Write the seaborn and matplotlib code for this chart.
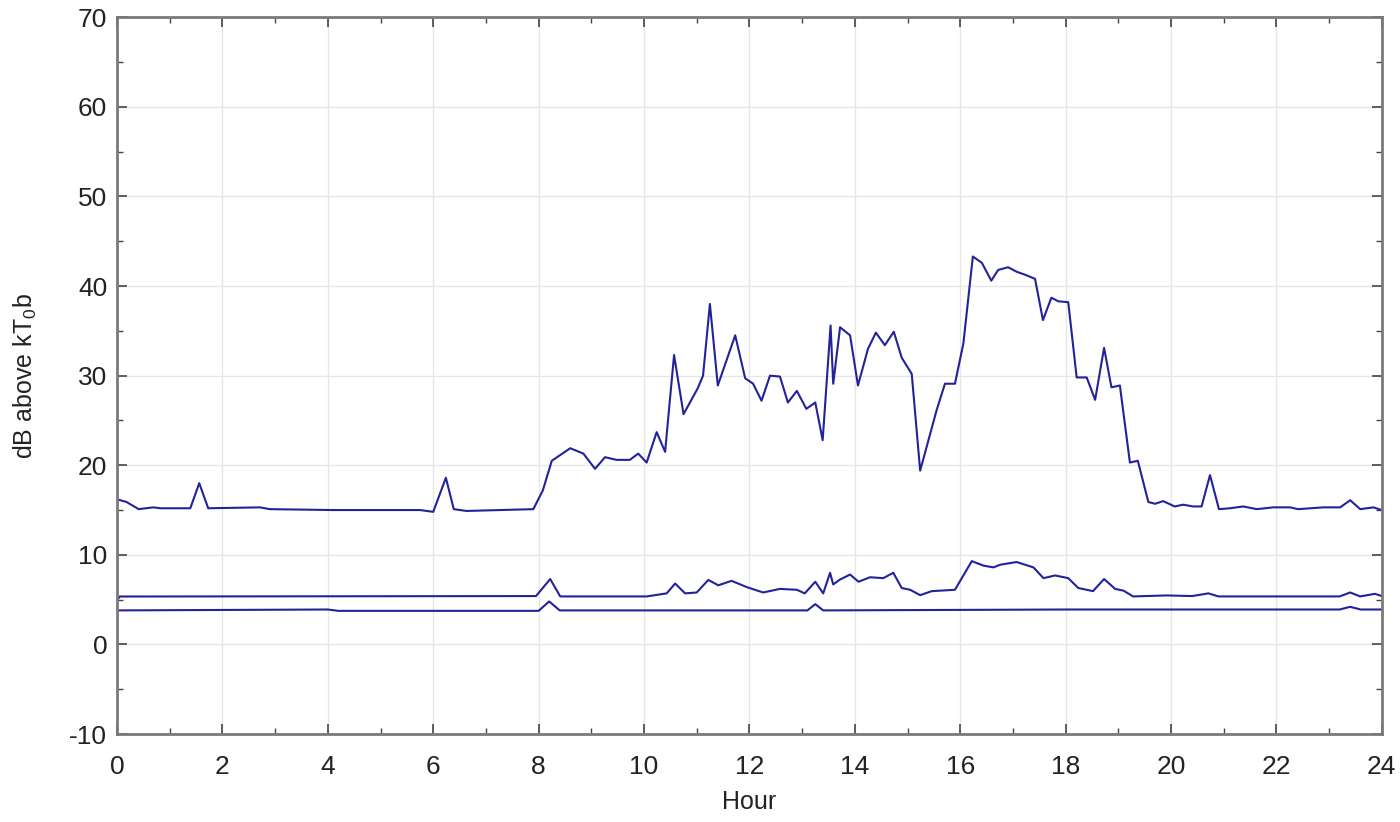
import numpy as np
import pandas as pd
import matplotlib
matplotlib.use('agg')
import matplotlib.pyplot as plt
import seaborn as sns
from matplotlib.ticker import MultipleLocator

sns.set_style('ticks')
plt.rcParams['font.family'] = ['Liberation Sans', 'DejaVu Sans']
plt.rcParams['mathtext.default'] = 'regular'
plt.rcParams['axes.unicode_minus'] = False

# upper curve (hour, dB)
upper_hour = [0.0, 0.18, 0.41, 0.69, 0.82, 1.39, 1.56, 1.73, 2.71, 2.9, 4.1, 5.75,
              6.0, 6.24, 6.39, 6.63, 7.9, 8.08, 8.25, 8.6, 8.85, 9.07, 9.26, 9.48,
              9.73, 9.89, 10.05, 10.24, 10.4, 10.57, 10.75, 11.02, 11.12, 11.25,
              11.4, 11.73, 11.92, 12.07, 12.23, 12.39, 12.58, 12.73, 12.9, 13.08,
              13.25, 13.39, 13.54, 13.59, 13.72, 13.91, 14.06, 14.25, 14.4, 14.57,
              14.74, 14.89, 15.08, 15.24, 15.55, 15.71, 15.9, 16.06, 16.24, 16.41,
              16.59, 16.72, 16.91, 17.07, 17.26, 17.42, 17.57, 17.73, 17.86, 18.05,
              18.21, 18.4, 18.56, 18.73, 18.87, 19.03, 19.22, 19.37, 19.57, 19.7,
              19.85, 20.07, 20.23, 20.42, 20.58, 20.74, 20.91, 21.12, 21.37, 21.63,
              21.94, 22.26, 22.41, 22.89, 23.21, 23.4, 23.59, 23.84, 24.0]
upper_db = [16.2, 15.9, 15.1, 15.3, 15.2, 15.2, 18.0, 15.2, 15.3, 15.1, 15.0, 15.0,
            14.8, 18.6, 15.1, 14.9, 15.1, 17.2, 20.5, 21.9, 21.3, 19.6, 20.9, 20.6,
            20.6, 21.3, 20.3, 23.7, 21.5, 32.3, 25.7, 28.6, 30.0, 38.0,
            28.9, 34.5, 29.7, 29.1, 27.2, 30.0, 29.9, 27.0, 28.3, 26.3,
            27.0, 22.8, 35.6, 29.1, 35.4, 34.5, 28.9, 33.0, 34.8, 33.4,
            34.9, 32.0, 30.2, 19.4, 26.1, 29.1, 29.1, 33.6, 43.3, 42.6,
            40.6, 41.8, 42.1, 41.6, 41.2, 40.8, 36.2, 38.7, 38.3, 38.2,
            29.8, 29.8, 27.3, 33.1, 28.7, 28.9, 20.3, 20.5, 15.9, 15.7,
            16.0, 15.4, 15.6, 15.4, 15.4, 18.9, 15.1, 15.2, 15.4, 15.1,
            15.3, 15.3, 15.1, 15.3, 15.3, 16.1, 15.1, 15.3, 15.0]

# middle curve
middle_hour = [0.0, 0.05, 7.95, 8.22, 8.41, 10.05, 10.43, 10.59, 10.78, 11.0, 11.22,
               11.41, 11.66, 11.95, 12.26, 12.58, 12.9, 13.05, 13.25, 13.4, 13.53,
               13.59, 13.72, 13.91, 14.07, 14.29, 14.54, 14.73, 14.89, 15.05, 15.24,
               15.46, 15.9, 16.22, 16.44, 16.63, 16.76, 17.07, 17.39, 17.58, 17.8,
               18.05, 18.24, 18.52, 18.73, 18.94, 19.1, 19.28, 19.92, 20.4, 20.71,
               20.9, 23.2, 23.4, 23.59, 23.87, 24.0]
middle_db = [4.9, 5.35, 5.4, 7.3, 5.36, 5.36, 5.7, 6.8, 5.7, 5.8, 7.2,
             6.6, 7.1, 6.4, 5.8, 6.2, 6.1, 5.7, 7.0, 5.7, 8.0,
             6.7, 7.25, 7.8, 7.0, 7.5, 7.4, 8.0, 6.3, 6.1, 5.5,
             5.95, 6.1, 9.3, 8.8, 8.6, 8.9, 9.2, 8.6, 7.4, 7.7,
             7.4, 6.3, 5.95, 7.3, 6.2, 6.0, 5.36, 5.47, 5.4, 5.7,
             5.36, 5.36, 5.8, 5.36, 5.65, 5.4]

# lower curve
lower_hour = [0.0, 4.0, 4.2, 8.0, 8.2, 8.4, 13.1, 13.25, 13.4, 18.0, 23.2, 23.4, 23.6, 24.0]
lower_db = [3.8, 3.9, 3.75, 3.75, 4.8, 3.8, 3.8, 4.5, 3.8, 3.9, 3.9, 4.2, 3.9, 3.9]

line_color = '#22229a'

fig = plt.figure(figsize=(14, 8.22), dpi=100)
ax = fig.add_axes([0.0836, 0.107, 0.9034, 0.872])

for hrs, vals in [(upper_hour, upper_db), (middle_hour, middle_db), (lower_hour, lower_db)]:
    sns.lineplot(x=hrs, y=vals, ax=ax, color=line_color, lw=1.5)

ax.set_xlim(0, 24)
ax.set_ylim(-10, 70)
ax.xaxis.set_major_locator(MultipleLocator(2))
ax.xaxis.set_minor_locator(MultipleLocator(1))
ax.yaxis.set_major_locator(MultipleLocator(10))
ax.yaxis.set_minor_locator(MultipleLocator(5))
ax.grid(True, which='major', color='#e6e6e6', lw=1)
ax.set_axisbelow(True)
ax.tick_params(which='both', direction='in', top=True, right=True,
               colors='#444444', labelcolor='#222222')
ax.tick_params(which='major', length=7, width=1.2, labelsize=19)
ax.tick_params(axis='x', which='major', pad=15)
ax.tick_params(axis='y', which='major', pad=7)
ax.tick_params(which='minor', length=4, width=1)
for sp in ax.spines.values():
    sp.set_color('#7a7a7a')
    sp.set_linewidth(2)

ax.set_xlabel('Hour', fontsize=18, color='#222222', labelpad=8)
ax.set_ylabel('dB above kT$_0$b', fontsize=18, color='#222222', labelpad=22)

fig.savefig('out.png', dpi=100)
